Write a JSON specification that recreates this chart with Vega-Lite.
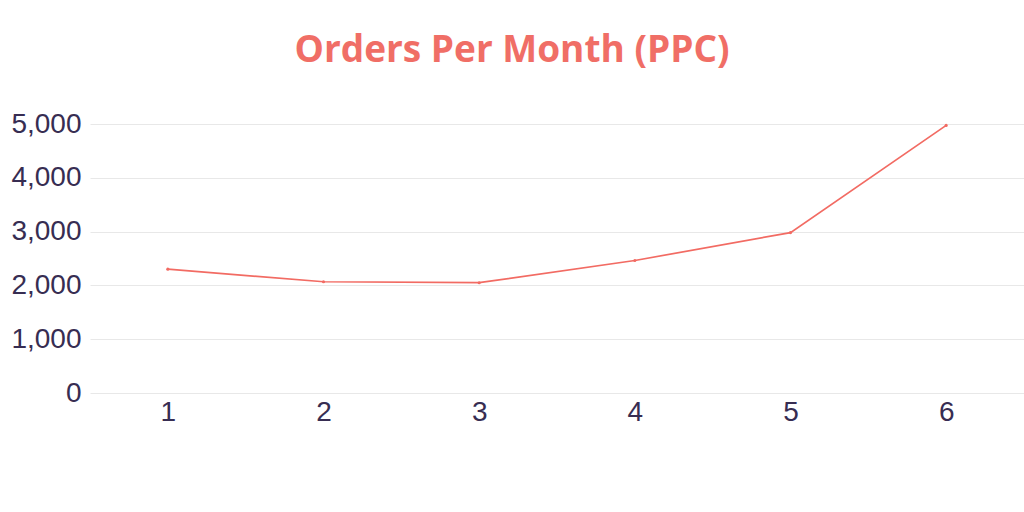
{
  "$schema": "https://vega.github.io/schema/vega-lite/v6.json",
  "width": 934,
  "height": 269,
  "autosize": "none",
  "padding": {"left": 90, "top": 124, "right": 0, "bottom": 119},
  "background": "white",
  "title": {
    "text": "Orders Per Month (PPC)",
    "font": "Open Sans",
    "fontSize": 37,
    "fontWeight": "bold",
    "color": "#f06e66",
    "anchor": "middle",
    "dx": -45,
    "offset": 40
  },
  "data": {
    "values": [
      {"month": 1, "orders": 2302},
      {"month": 2, "orders": 2068},
      {"month": 3, "orders": 2050},
      {"month": 4, "orders": 2463},
      {"month": 5, "orders": 2981},
      {"month": 6, "orders": 4974}
    ]
  },
  "mark": {"type": "line", "color": "#f26b63", "strokeWidth": 1.7, "point": {"filled": true, "size": 10, "color": "#f26b63"}},
  "encoding": {
    "x": {
      "field": "month",
      "type": "ordinal",
      "scale": {"type": "point", "padding": 0.5},
      "axis": {"title": null, "labelAngle": 0, "domain": false, "ticks": false, "grid": false, "labelFont": "Liberation Sans", "labelFontSize": 28, "labelColor": "#372d52", "labelPadding": 5}
    },
    "y": {
      "field": "orders",
      "type": "quantitative",
      "scale": {"domain": [0, 5000], "nice": false},
      "axis": {"title": null, "values": [0, 1000, 2000, 3000, 4000, 5000], "domain": false, "ticks": false, "gridColor": "#e8e8e8", "gridWidth": 1, "labelFont": "Liberation Sans", "labelFontSize": 28, "labelColor": "#372d52", "labelPadding": 9, "format": ",.0f"}
    }
  },
  "config": {"view": {"stroke": null}}
}
